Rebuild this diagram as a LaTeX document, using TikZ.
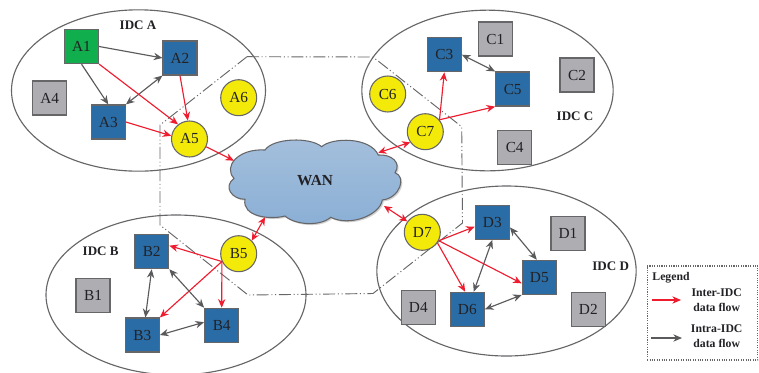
\documentclass[tikz,border=0pt]{standalone}
\usepackage{fontspec}
\setmainfont{Liberation Serif}
\usetikzlibrary{arrows.meta,shapes.geometric}
\definecolor{edgegray}{HTML}{666669}
\definecolor{arrowgray}{HTML}{5A5A5C}
\definecolor{flowred}{HTML}{EE1C2E}
\definecolor{hostgreen}{HTML}{10AE4C}
\definecolor{hostblue}{HTML}{2A6CA5}
\definecolor{hostgray}{HTML}{AEAEB2}
\definecolor{hostyellow}{HTML}{F4EA0A}
\definecolor{cloudtop}{HTML}{A4BFDC}
\definecolor{cloudbot}{HTML}{8AAFD5}
\definecolor{inktext}{HTML}{222226}
\tikzset{
  x=0.75pt,y=-0.75pt,
  host/.style={rectangle,draw=edgegray,line width=0.9pt,minimum size=25.5pt,inner sep=0pt,font=\fontsize{11.5pt}{12pt}\selectfont,text=inktext},
  greenhost/.style={host,fill=hostgreen},
  bluehost/.style={host,fill=hostblue},
  grayhost/.style={host,fill=hostgray},
  gateway/.style={circle,draw=edgegray,line width=0.8pt,fill=hostyellow,minimum size=27pt,inner sep=0pt,font=\fontsize{11.5pt}{12pt}\selectfont,text=inktext},
  idc/.style={ellipse,draw=edgegray,line width=0.85pt,inner sep=0pt},
  idclabel/.style={font=\fontsize{9.8pt}{11pt}\selectfont\bfseries,text=inktext},
  legendtext/.style={font=\fontsize{8.8pt}{10pt}\selectfont\bfseries,text=inktext},
  inter/.style={draw=flowred,line width=0.85pt,-{Stealth[length=6.5pt,width=5.5pt]}},
  interboth/.style={draw=flowred,line width=0.85pt,{Stealth[length=6pt,width=5.5pt]}-{Stealth[length=6pt,width=5.5pt]}},
  intra/.style={draw=arrowgray,line width=0.85pt,-{Stealth[length=6.5pt,width=5.5pt]}},
  intraboth/.style={draw=arrowgray,line width=0.85pt,{Stealth[length=6.5pt,width=5.5pt]}-{Stealth[length=6.5pt,width=5.5pt]}},
  boundary/.style={draw=edgegray,line width=0.7pt,dash pattern=on 9pt off 2pt on 0.8pt off 2pt on 0.8pt off 2pt},
}
\newcommand{\cloudoutline}{(265,150)
 .. controls (273,138) and (310,136.7) .. (321.7,146.7)
 .. controls (331.7,137.3) and (370,136.7) .. (378.3,155)
 .. controls (391.7,154) and (401.7,163) .. (395,172.7)
 .. controls (406.7,176.7) and (400,198) .. (382.3,200)
 .. controls (380,215) and (350,227) .. (330.7,217.3)
 .. controls (320,226.7) and (295,225) .. (285,216)
 .. controls (270,220) and (241.7,216.7) .. (245,199.3)
 .. controls (231.7,199.3) and (223,186.7) .. (234,178.3)
 .. controls (223,166.7) and (238,148.3) .. (265,150) -- cycle}
\begin{document}
\begin{tikzpicture}
\clip (0,0) rectangle (759,372);
\fill[white] (0,0) rectangle (759,372);

% dash-dot-dot boundary of the WAN region
\draw[boundary] (247,56.7) -- (373,57) -- (461.7,126.7) -- (462.5,223) -- (373,293.5) -- (248,295) -- (160,225) -- (160,125) -- cycle;

% IDC ellipses
\node[idc,minimum width=190.5pt,minimum height=121pt] (idcA) at (138.5,90.5) {};
\node[idc,minimum width=188.5pt,minimum height=120.5pt] (idcC) at (487.5,90.5) {};
\node[idc,minimum width=195pt,minimum height=120pt] (idcB) at (176,295) {};
\node[idc,minimum width=194.5pt,minimum height=127.5pt] (idcD) at (506.5,271) {};

\node[idclabel] (labA) at (138,25.5) {IDC A};
\node[idclabel] (labC) at (575,116.7) {IDC C};
\node[idclabel] (labB) at (100.7,251) {IDC B};
\node[idclabel] (labD) at (610.7,266) {IDC D};

% WAN cloud
\fill[gray,opacity=0.35,shift={(1.5,1.5)}] \cloudoutline;
\draw[draw=edgegray,line width=0.8pt,top color=cloudtop,bottom color=cloudbot] \cloudoutline;
\node[font=\fontsize{11.5pt}{12pt}\selectfont\bfseries,text=inktext] (wan) at (315,180.5) {WAN};
\coordinate (cloudA) at (234,160.7);
\coordinate (cloudB) at (265,217.3);
\coordinate (cloudC) at (378.3,152.7);
\coordinate (cloudD) at (384,206);

% IDC A
\node[greenhost] (A1) at (81.5,46.5) {A1};
\node[bluehost] (A2) at (180,58) {A2};
\node[bluehost] (A3) at (108.3,122) {A3};
\node[grayhost] (A4) at (49.7,98) {A4};
\node[gateway] (A5) at (189.5,139) {A5};
\node[gateway] (A6) at (238.7,97.7) {A6};

% IDC C
\node[grayhost] (C1) at (495.3,39) {C1};
\node[grayhost] (C2) at (577,75) {C2};
\node[bluehost] (C3) at (444.3,54.7) {C3};
\node[grayhost] (C4) at (514.7,147.7) {C4};
\node[bluehost] (C5) at (512.7,89) {C5};
\node[gateway] (C6) at (387.7,94) {C6};
\node[gateway] (C7) at (425.3,131.7) {C7};

% IDC B
\node[grayhost] (B1) at (93,295.3) {B1};
\node[bluehost] (B2) at (151.7,251.7) {B2};
\node[bluehost] (B3) at (142.3,335) {B3};
\node[bluehost] (B4) at (221.7,325.3) {B4};
\node[gateway] (B5) at (238.7,253.7) {B5};

% IDC D
\node[grayhost] (D1) at (568,233.7) {D1};
\node[grayhost] (D2) at (588.3,309.3) {D2};
\node[bluehost] (D3) at (492.3,222.3) {D3};
\node[grayhost] (D4) at (418.3,307.7) {D4};
\node[bluehost] (D5) at (539.3,277.3) {D5};
\node[bluehost] (D6) at (467.3,309.3) {D6};
\node[gateway] (D7) at (422.3,232.3) {D7};

% flows, IDC A
\draw[intra] (A1.east) -- (A2.west);
\draw[intra] (A1.south) -- (A3.north);
\draw[intraboth] (A2.south west) -- (A3.north east);
\draw[inter] (A1.south east) -- (A5.128);
\draw[inter] (A2.south) -- (A5.95);
\draw[inter] (A3.east) -- (A5.170);
\draw[inter] (A5.-25) -- (cloudA);

% flows, IDC C
\draw[inter] (C7.40) -- (C3.south);
\draw[inter] (C7.40) -- (C5.south west);
\draw[intraboth] (C3.east) -- (C5.north west);
\draw[interboth] (cloudC) -- (C7.215);

% flows, IDC B
\draw[interboth] (cloudB) -- (B5.45);
\draw[inter] (B5.205) -- (B2.19);
\draw[inter] (B5.205) -- (B3.north east);
\draw[inter] (B5.205) -- (B4.north);
\draw[intraboth] (B2.south) -- (B3.80);
\draw[intraboth] (B2.south east) -- (B4.north west);
\draw[intraboth] (B3.east) -- (B4.170);

% flows, IDC D
\draw[interboth] (cloudD) -- (D7.144);
\draw[inter] (D7.-27) -- (D3.194);
\draw[inter] (D7.-27) -- (D5.199);
\draw[inter] (D7.-35) -- (D6.97);
\draw[intraboth] (D3.south) -- (D6.70);
\draw[intraboth] (D3.-16) -- (D5.98);
\draw[intraboth] (D5.south west) -- (D6.east);

% legend
\node[draw=edgegray,line width=0.8pt,densely dotted,minimum width=83pt,minimum height=70.5pt,inner sep=0pt] (legend) at (702.5,313) {};
\node[legendtext] (legtitle) at (671,277.5) {Legend};
\node[legendtext] (legA) at (716.7,293) {Inter-IDC};
\node[legendtext] (legB) at (716.7,307.5) {data flow};
\node[legendtext] (legC) at (716.7,329) {Intra-IDC};
\node[legendtext] (legD) at (716.7,343.5) {data flow};
\coordinate (redS) at (652,300);
\coordinate (redE) at (681,300);
\coordinate (grayS) at (651,338);
\coordinate (grayE) at (682,338);
\draw[inter] (redS) -- (redE);
\draw[intra] (grayS) -- (grayE);
\end{tikzpicture}
\end{document}
